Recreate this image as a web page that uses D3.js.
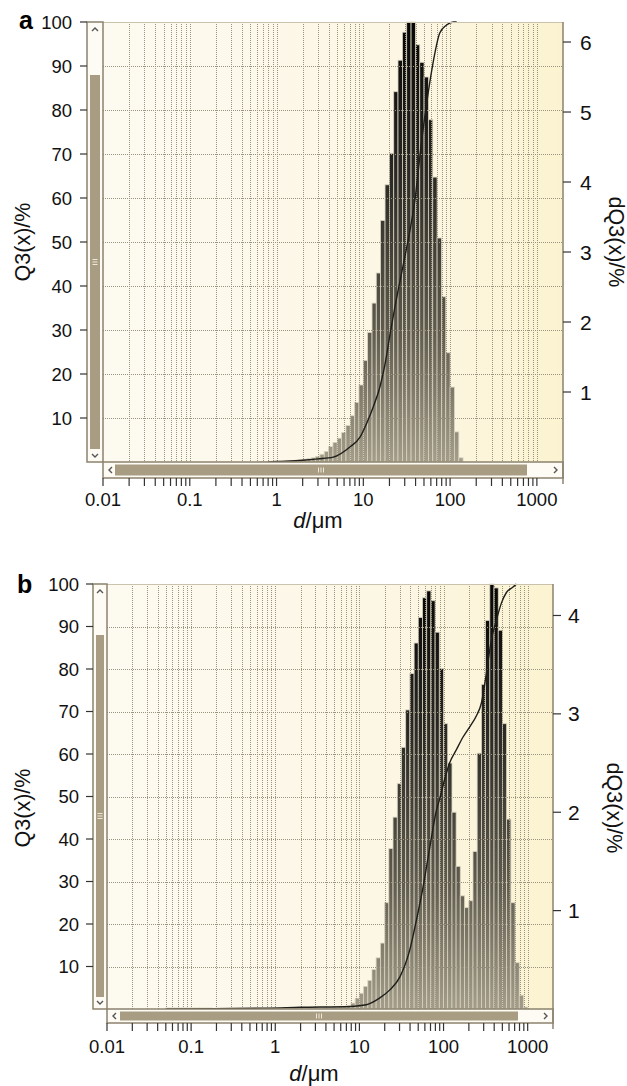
<!DOCTYPE html>
<html><head><meta charset="utf-8">
<script src="https://cdn.jsdelivr.net/npm/d3@7"></script>
<style>body{margin:0;background:#fff} svg{display:block}</style>
</head><body>
<svg id="c" width="627" height="1086"></svg>
<script>
// ---- data ----
// size class edges (µm)
const sizeClasses = [
  0.0501,0.0562,0.0631,0.0708,0.0794,0.0891,
  0.1,0.112,0.126,0.141,0.158,0.178,0.2,0.224,0.251,0.282,0.316,0.355,0.398,0.447,0.501,0.562,0.631,0.708,0.794,0.891,
  1,1.12,1.26,1.41,1.58,1.78,2,2.24,2.51,2.82,3.16,3.55,3.98,4.47,5.01,5.62,6.31,7.08,7.94,8.91,
  10,11.2,12.6,14.1,15.8,17.8,20,22.4,25.1,28.2,31.6,35.5,39.8,44.7,50.1,56.2,63.1,70.8,79.4,89.1,
  100,112,126,141,158,178,200,224,251,282,316,355,398,447,501,562,631,708,794,891,
  1000
];
// dQ3 per class, panel a (%)
const dQ3a = [
  0,0,0,0,0,0,
  0,0,0,0,0,0,0,0,0,0,0,0,0,0,0,0,0.005,0.005,0.01,0.01,
  0.01,0.01,0.015,0.02,0.025,0.03,0.04,0.05,0.06,0.08,0.11,0.15,0.22,0.28,0.34,0.42,0.52,0.66,0.85,1.1,
  1.45,1.85,2.27,2.7,3.45,3.96,4.41,5.29,5.74,6.14,6.29,6.29,5.96,5.71,5.5,4.89,4.07,3.2,2.36,1.56,
  1.07,0.43,0.06,0,0,0,0,0,0,0,0,0,0,0,0,0,0,0,0,0
];
// dQ3 per class, panel b (%)
const dQ3b = [
  0.01,0.01,0.01,0.01,0.01,0.01,
  0.01,0.01,0.01,0.01,0.01,0,0,0,0,0,0,0,0,0,0,0,0,0,0.01,0.01,
  0.01,0.01,0.01,0.01,0.01,0.01,0.01,0.01,0.012,0.012,0.012,0.013,0.013,0.015,0.015,0.02,0.02,0.03,0.06,0.11,
  0.16,0.23,0.29,0.40,0.52,0.67,1.08,1.63,1.95,2.29,2.66,3.04,3.41,3.72,3.98,4.18,4.25,4.15,3.83,3.46,
  2.9,2.5,2.0,1.45,1.15,1.03,1.1,1.6,2.6,3.3,3.95,4.34,4.28,3.85,2.9,1.93,1.08,0.47,0.14,0.02
];
// cumulative Q3 curves (%)
const q3aSize  = [0.8,1,2,3,4.5,7,9.2,11,13,15.5,17.7,20.3,23,27,31.5,39.3,47,56,64,76,91,110,119];
const q3aValue = [0,0.1,0.4,0.7,1.1,3.4,5.7,8.9,12.5,17,22,29,35,42,48.6,59.5,73,84,91,97.5,99.3,100,100];
const q3bSize  = [0.05,0.18,0.8,2,7.7,12.1,17.5,23,30.2,39.7,47.7,57.1,68.6,82.4,90.2,103,118.6,142,170.6,205,246,282,323,370,425,487,559,670,735];
const q3bValue = [0,0.1,0.2,0.4,0.6,1,2.6,4.5,7.5,13.9,21,28.7,38,46.8,49.5,54,58,61,64,66.4,69,72,79,86.8,91.5,95.5,98,99.3,100];
// axis ticks
const leftTicks = [10,20,30,40,50,60,70,80,90,100];
const rightTicksA = [1,2,3,4,5,6];
const rightTicksB = [1,2,3,4];
const xTickValues = [0.01,0.1,1,10,100,1000];
const xTickLabels = ["0.01","0.1","1","10","100","1000"];

// ---- drawing ----
const svg = d3.select("#c");
const defs = svg.append("defs");
const FONT = "'Liberation Sans', Arial, Helvetica, sans-serif";
const FRAME = "#8c826e";
const THUMB = "#a89d83";
const GRID = "#9a9380";

function drawPanel(o) {
  const x = d3.scaleLog().domain([0.01, 2000]).range([o.L, o.R]);
  const yL = d3.scaleLinear().domain([0, 100]).range([o.B, o.T]);
  const yR = d3.scaleLinear().domain([0, o.rMax]).range([o.B, o.T]);
  const g = svg.append("g");

  const bg = defs.append("linearGradient").attr("id", "bg" + o.id)
    .attr("x1", 0).attr("x2", 1).attr("y1", 0).attr("y2", 0);
  bg.append("stop").attr("offset", 0).attr("stop-color", "#fdfaf1");
  bg.append("stop").attr("offset", 0.7).attr("stop-color", "#fcf6e2");
  bg.append("stop").attr("offset", 1).attr("stop-color", "#fbf3d0");
  const bf = defs.append("linearGradient").attr("id", "bar" + o.id)
    .attr("gradientUnits", "userSpaceOnUse")
    .attr("x1", 0).attr("x2", 0).attr("y1", o.T).attr("y2", o.B);
  bf.append("stop").attr("offset", 0).attr("stop-color", "#050505");
  bf.append("stop").attr("offset", 0.35).attr("stop-color", "#2a2925");
  bf.append("stop").attr("offset", 0.7).attr("stop-color", "#5e5a4e");
  bf.append("stop").attr("offset", 1).attr("stop-color", "#a39d8a");

  g.append("rect").attr("x", o.L).attr("y", o.T)
    .attr("width", o.R - o.L).attr("height", o.B - o.T)
    .attr("fill", "url(#bg" + o.id + ")");

  // bars
  const bins = o.values.map((v, i) => ({lo: sizeClasses[i], hi: sizeClasses[i + 1], v}))
    .filter(d => d.v > 0);
  g.append("g").selectAll("rect").data(bins).join("rect")
    .attr("x", d => x(d.lo)).attr("width", d => x(d.hi) - x(d.lo))
    .attr("y", d => yR(Math.min(d.v, o.rMax)))
    .attr("height", d => o.B - yR(Math.min(d.v, o.rMax)))
    .attr("fill", "url(#bar" + o.id + ")")
    .attr("stroke", "#d9d3bf").attr("stroke-width", 0.8);

  // grid
  const allTicks = x.ticks().filter(t => t > 0.0100001 && t <= 1000.001);
  const grid = g.append("g").attr("stroke", GRID).attr("stroke-width", 1)
    .attr("stroke-dasharray", "1,1");
  grid.selectAll(".v").data(allTicks).join("line")
    .attr("x1", d => Math.round(x(d)) + 0.5).attr("x2", d => Math.round(x(d)) + 0.5)
    .attr("y1", o.T).attr("y2", o.B);
  grid.selectAll(".h").data(leftTicks.filter(t => t < 100)).join("line")
    .attr("x1", o.L).attr("x2", o.R)
    .attr("y1", d => Math.round(yL(d)) + 0.5).attr("y2", d => Math.round(yL(d)) + 0.5);

  // Q3 curve
  const line = d3.line().x(d => x(d[0])).y(d => yL(d[1])).curve(d3.curveMonotoneX);
  g.append("path").datum(d3.zip(o.q3Size, o.q3Value)).attr("d", line)
    .attr("fill", "none").attr("stroke", "#1e1e1a").attr("stroke-width", 1.4);

  // plot top border
  g.append("line").attr("x1", o.L).attr("x2", o.R).attr("y1", o.T + 0.5).attr("y2", o.T + 0.5)
    .attr("stroke", "#c9c2ad").attr("stroke-width", 1);

  // vertical scrollbar (left axis frame)
  const sw = o.L - o.sbL;
  g.append("rect").attr("x", o.sbL).attr("y", o.T).attr("width", sw).attr("height", o.B - o.T)
    .attr("fill", "#fdfbf4").attr("stroke", FRAME).attr("stroke-width", 1.5);
  g.append("rect").attr("x", o.sbL + 3).attr("y", o.vThumb[0]).attr("width", sw - 6)
    .attr("height", o.vThumb[1] - o.vThumb[0]).attr("fill", THUMB);
  [-2.5, 0, 2.5].forEach(dy => g.append("line")
    .attr("x1", o.sbL + sw / 2 - 2.5).attr("x2", o.sbL + sw / 2 + 2.5)
    .attr("y1", o.gripY + dy).attr("y2", o.gripY + dy)
    .attr("stroke", "#eee8d6").attr("stroke-width", 1));
  const cx = o.sbL + sw / 2;
  g.append("path").attr("d", `M${cx - 3},${o.T + 9} L${cx},${o.T + 6} L${cx + 3},${o.T + 9}`)
    .attr("fill", "none").attr("stroke", "#555").attr("stroke-width", 1.4);
  g.append("path").attr("d", `M${cx - 3},${o.B - 8} L${cx},${o.B - 5} L${cx + 3},${o.B - 8}`)
    .attr("fill", "none").attr("stroke", "#555").attr("stroke-width", 1.4);

  // horizontal scrollbar
  const hb = o.B + o.hsbH;
  g.append("rect").attr("x", o.L).attr("y", o.B).attr("width", o.R - o.L).attr("height", o.hsbH)
    .attr("fill", "#fdfbf4").attr("stroke", FRAME).attr("stroke-width", 1.5);
  g.append("rect").attr("x", o.hThumb[0]).attr("y", o.B + 2.5).attr("width", o.hThumb[1] - o.hThumb[0])
    .attr("height", o.hsbH - 5).attr("fill", THUMB);
  [-2.5, 0, 2.5].forEach(dx => g.append("line")
    .attr("x1", o.gripX + dx).attr("x2", o.gripX + dx)
    .attr("y1", o.B + o.hsbH / 2 - 2.5).attr("y2", o.B + o.hsbH / 2 + 2.5)
    .attr("stroke", "#eee8d6").attr("stroke-width", 1));
  const cy = o.B + o.hsbH / 2;
  g.append("path").attr("d", `M${o.L + 9},${cy - 3} L${o.L + 6},${cy} L${o.L + 9},${cy + 3}`)
    .attr("fill", "none").attr("stroke", "#555").attr("stroke-width", 1.4);
  g.append("path").attr("d", `M${o.R - 9},${cy - 3} L${o.R - 6},${cy} L${o.R - 9},${cy + 3}`)
    .attr("fill", "none").attr("stroke", "#555").attr("stroke-width", 1.4);

  // right axis
  g.append("line").attr("x1", o.R).attr("x2", o.R).attr("y1", o.T).attr("y2", hb + 6)
    .attr("stroke", FRAME).attr("stroke-width", 1.5);
  g.selectAll(".rt").data(o.rightTicks).join("line")
    .attr("x1", o.R).attr("x2", o.R + 8)
    .attr("y1", d => yR(d)).attr("y2", d => yR(d))
    .attr("stroke", "#333").attr("stroke-width", 1.2);
  g.selectAll(".rl").data(o.rightTicks).join("text")
    .attr("x", o.R + o.rLabelDx).attr("y", d => yR(d)).attr("dy", "0.36em")
    .attr("font-family", FONT).attr("font-size", 21).attr("fill", "#111")
    .text(d => d);

  // left axis
  g.selectAll(".lt").data(leftTicks).join("line")
    .attr("x1", o.sbL - 7).attr("x2", o.sbL)
    .attr("y1", d => yL(d)).attr("y2", d => yL(d))
    .attr("stroke", "#333").attr("stroke-width", 1.2);
  g.selectAll(".ll").data(leftTicks).join("text")
    .attr("x", o.lLabelX).attr("y", d => yL(d)).attr("dy", "0.36em")
    .attr("text-anchor", "end")
    .attr("font-family", FONT).attr("font-size", 18.5).attr("fill", "#111")
    .text(d => d);

  // bottom axis
  g.selectAll(".bt").data([0.01].concat(allTicks)).join("line")
    .attr("x1", d => x(d)).attr("x2", d => x(d))
    .attr("y1", hb).attr("y2", hb + 8)
    .attr("stroke", "#333").attr("stroke-width", 1.2);
  g.selectAll(".bl").data(xTickValues).join("text")
    .attr("x", d => x(d)).attr("y", o.xLabelY)
    .attr("text-anchor", "middle")
    .attr("font-family", FONT).attr("font-size", 18.5).attr("fill", "#111")
    .text((d, i) => xTickLabels[i]);

  // titles
  const xt = g.append("text").attr("x", o.xTitleX).attr("y", o.xTitleY)
    .attr("text-anchor", "middle").attr("font-family", FONT).attr("font-size", 22).attr("fill", "#111");
  xt.append("tspan").attr("font-style", "italic").text("d");
  xt.append("tspan").text("/μm");
  g.append("text").attr("transform", `translate(${o.lTitleX},${o.titleY}) rotate(-90)`)
    .attr("text-anchor", "middle").attr("dy", "0.36em")
    .attr("font-family", FONT).attr("font-size", 21.5).attr("fill", "#111").text("Q3(x)/%");
  g.append("text").attr("transform", `translate(${o.rTitleX},${o.titleY}) rotate(90)`)
    .attr("text-anchor", "middle").attr("dy", "0.36em")
    .attr("font-family", FONT).attr("font-size", 21.5).attr("fill", "#111").text("dQ3(x)/%");
  g.append("text").attr("x", o.letterX).attr("y", o.letterY)
    .attr("font-family", FONT).attr("font-size", 25).attr("font-weight", "bold").attr("fill", "#000")
    .text(o.letter);
}

drawPanel({
  id: "a", letter: "a", letterX: 19, letterY: 29,
  L: 103, R: 563, T: 22, B: 462, sbL: 87, hsbH: 16, rMax: 6.286,
  vThumb: [75, 449], hThumb: [115, 527], gripY: 262, gripX: 321,
  values: dQ3a, q3Size: q3aSize, q3Value: q3aValue, rightTicks: rightTicksA,
  rLabelDx: 17, lLabelX: 72, xLabelY: 506, xTitleX: 318, xTitleY: 528,
  lTitleX: 22, rTitleX: 617, titleY: 242
});
drawPanel({
  id: "b", letter: "b", letterX: 17, letterY: 593,
  L: 107, R: 553, T: 584, B: 1009, sbL: 93, hsbH: 14, rMax: 4.32,
  vThumb: [635, 997], hThumb: [120, 518], gripY: 816, gripX: 319,
  values: dQ3b, q3Size: q3bSize, q3Value: q3bValue, rightTicks: rightTicksB,
  rLabelDx: 15, lLabelX: 79, xLabelY: 1053, xTitleX: 314, xTitleY: 1081,
  lTitleX: 22, rTitleX: 615, titleY: 808
});
</script>
</body></html>
